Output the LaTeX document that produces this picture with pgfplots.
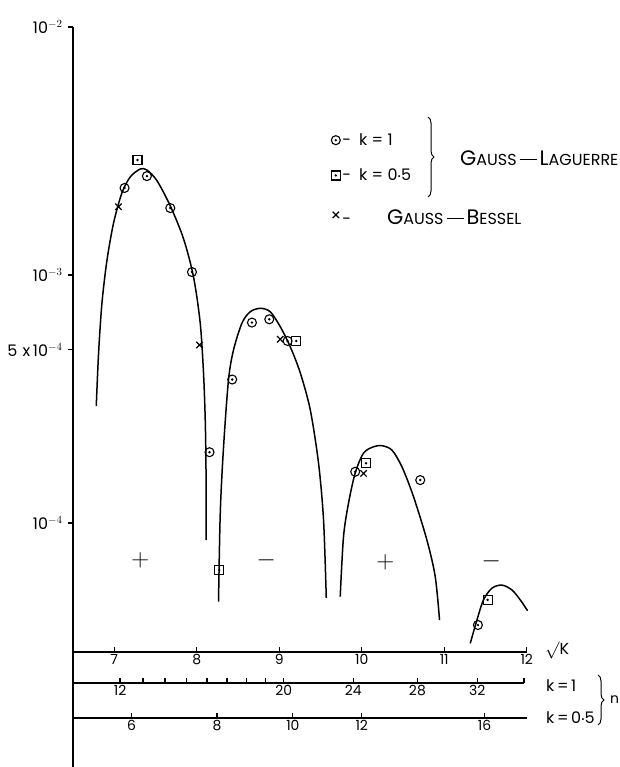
\documentclass[border=0pt]{standalone}
\usepackage{pgfplots}
\pgfplotsset{compat=1.18}
\usepackage{pgfplotstable}
\usetikzlibrary{decorations.pathreplacing}
\usepackage{fontspec}
\setmainfont{Poppins}

% circle / square with a dot in the middle
\pgfdeclareplotmark{odot}{%
  \pgfpathcircle{\pgfpointorigin}{\pgfplotmarksize}\pgfusepathqstroke
  \pgfpathcircle{\pgfpointorigin}{0.3\pgfplotmarksize}\pgfusepathqfill}
\pgfdeclareplotmark{sqdot}{%
  \pgfpathrectangle{\pgfpoint{-\pgfplotmarksize}{-\pgfplotmarksize}}{\pgfpoint{2\pgfplotmarksize}{2\pgfplotmarksize}}\pgfusepathqstroke
  \pgfpathcircle{\pgfpointorigin}{0.3\pgfplotmarksize}\pgfusepathqfill}

\newcommand\bigc[1]{{\fontsize{21}{22}\selectfont #1}}
\newcommand\smc[1]{{\fontsize{16}{17}\selectfont #1}}
\newcommand\dsh{\hspace{3bp}\rule[5bp]{17bp}{1.3bp}\hspace{3bp}}
\newcommand\legfont{\fontsize{16}{18}\selectfont}

% lobes of the curve, x = sqrt(K)
\pgfplotstableread{
x y
6.782 2.96e-4
6.810 4.84e-4
6.851 7.71e-4
6.912 1.148e-3
6.992 1.622e-3
7.093 2.143e-3
7.194 2.486e-3
7.315 2.675e-3
7.396 2.65e-3
7.518 2.40e-3
7.679 1.90e-3
7.840 1.40e-3
7.961 9.82e-4
8.042 6.40e-4
8.082 4.03e-4
8.103 2.60e-4
8.112 1.68e-4
8.115 8.53e-5
}\lobeA
\pgfplotstableread{
x y
8.264 4.82e-5
8.285 1.097e-4
8.325 2.03e-4
8.385 3.78e-4
8.446 4.99e-4
8.548 6.40e-4
8.648 7.11e-4
8.770 7.34e-4
8.891 7.11e-4
9.012 6.19e-4
9.133 5.14e-4
9.255 4.03e-4
9.376 2.86e-4
9.476 1.746e-4
9.537 1.028e-4
9.570 4.99e-5
}\lobeB
\pgfplotstableread{
x y
9.739 5.05e-5
9.779 8.81e-5
9.840 1.204e-4
9.921 1.592e-4
10.022 1.914e-4
10.143 2.03e-4
10.245 2.05e-4
10.366 1.968e-4
10.487 1.686e-4
10.628 1.276e-4
10.790 8.53e-5
10.891 6.07e-5
10.943 4.06e-5
}\lobeC
\pgfplotstableread{
x y
11.315 3.27e-5
11.396 4.06e-5
11.476 4.90e-5
11.578 5.46e-5
11.699 5.62e-5
11.821 5.37e-5
11.921 4.90e-5
12.010 4.43e-5
}\lobeD

% Gauss-Laguerre k=1
\pgfplotstableread{
x y
7.125 2.244e-3
7.396 2.505e-3
7.679 1.862e-3
7.942 1.028e-3
8.155 1.93e-4
8.430 3.79e-4
8.669 6.43e-4
8.879 6.63e-4
9.101 5.42e-4
9.921 1.61e-4
10.709 1.49e-4
11.408 3.88e-5
}\lagA
% Gauss-Laguerre k=0.5
\pgfplotstableread{
x y
7.282 2.91e-3
8.273 6.46e-5
9.206 5.42e-4
10.051 1.742e-4
11.525 4.90e-5
}\lagB
% Gauss-Bessel
\pgfplotstableread{
x y
7.052 1.884e-3
8.034 5.22e-4
9.012 5.51e-4
10.022 1.585e-4
}\bess

\pgfplotsset{
  scaleaxis/.style={scale only axis, width=453.75bp, height=10bp, anchor=south west,
    xmin=6.5, xmax=12, ymin=0, ymax=1,
    axis x line=bottom, axis y line=none, ytick=\empty,
    axis line style={-, line width=1.6bp},
    tick align=inside, major tick length=5bp, tick style={line width=1.2bp, black},
    xticklabel style={font=\fontsize{14}{14}\selectfont, inner sep=2bp}},
}

\begin{document}
\begin{tikzpicture}
\useasboundingbox (-73bp,0bp) rectangle (547bp,767bp);

\begin{axis}[scale only axis, width=453.75bp, height=740bp, at={(0,0)}, anchor=south west,
  xmin=6.5, xmax=12, ymode=log, ymin=1.038e-5, ymax=1e-2,
  axis x line=none, axis y line=left, xtick=\empty,
  axis line style={-, line width=1.6bp},
  ytick={1e-4,5e-4,1e-3,1e-2},
  yticklabels={10$^{-4}$, 5\,\,x\,10$^{-4}$, 10$^{-3}$, 10$^{-2}$},
  yminorticks=false, tick align=outside, major tick length=5bp,
  tick style={line width=1.2bp, black},
  yticklabel style={font=\fontsize{16}{16}\selectfont, xshift=-2bp},
  clip=false,
  legend image code/.code={\draw[#1] plot coordinates {(0bp,0bp)};},
  legend style={at={(0.5689,0.859)}, anchor=north west, draw=none, fill=none,
    font=\legfont, row sep=18bp, inner sep=0pt},
  legend cell align=left,
]
\addplot[only marks, mark=odot, mark size=4.5bp, mark options={line width=1.1bp}] table {\lagA};
\addlegendentry{\legfont -\hspace{8bp}k\;=\;1}
\addplot[only marks, mark=sqdot, mark size=4.5bp, mark options={line width=1.1bp}] table {\lagB};
\addlegendentry{\legfont -\hspace{8bp}k\;=\;0{\raisebox{0.35ex}{.}}5}
\addplot[only marks, mark=x, mark size=4.5bp, mark options={line width=1.2bp}] table {\bess};
\addlegendentry{\legfont -\hspace{36bp}\rule{0pt}{20bp}\bigc{G}\smc{AUSS}\dsh\bigc{B}\smc{ESSEL}}

\addplot[forget plot, black, line width=1.5bp, smooth] table {\lobeA};
\addplot[forget plot, black, line width=1.5bp, smooth] table {\lobeB};
\addplot[forget plot, black, line width=1.5bp, smooth] table {\lobeC};
\addplot[forget plot, black, line width=1.5bp, smooth] table {\lobeD};

\node at (axis cs:7.315,7.09e-5) {\Huge$+$};
\node at (axis cs:8.842,7.09e-5) {\Huge$-$};
\node at (axis cs:10.285,6.97e-5) {\Huge$+$};
\node at (axis cs:11.570,7.03e-5) {\Huge$-$};
\end{axis}

% sqrt K scale
\begin{axis}[scaleaxis, at={(0bp,115bp)},
  xtick={7,8,9,10,11,12}, xticklabels={7,8,9,10,11,12}]
\end{axis}
% n scale, k = 1  (K = 4n+2)
\begin{axis}[scaleaxis, at={(0bp,84bp)}, xmax=11.97,
  width=451bp,
  xtick={7.0711,7.3485,7.6158,7.8740,8.1240,8.3666,8.6023,8.8318,9.0554,9.8995,10.6771,11.4018,11.97},
  xticklabels={12,,,,,,,,20,24,28,32,}]
\end{axis}
% n scale, k = 0.5  (K = 8n+4)
\begin{axis}[scaleaxis, at={(0bp,49bp)},
  xtick={7.2111,8.2462,9.1652,10,11.4891},
  xticklabels={6,8,10,12,16}]
\end{axis}

% extension of the y axis through the scales
\draw[line width=1.6bp] (0bp,0bp) -- (0bp,27bp);

% legend brace and labels
\draw[line width=1bp, decorate, decoration={brace, amplitude=6bp}] (355bp,650bp) -- (355bp,570bp);
\node[anchor=west, inner sep=0pt] at (387bp,609bp)
  {\bigc{G}\smc{AUSS}\dsh\bigc{L}\smc{AGUERRE}};

\node[anchor=west, inner sep=0pt, font=\fontsize{16}{18}\selectfont] at (472bp,117bp) {$\surd$K};
\node[anchor=west, inner sep=0pt, font=\fontsize{16}{18}\selectfont] at (473bp,81bp) {k\,=\,1};
\node[anchor=west, inner sep=0pt, font=\fontsize{16}{18}\selectfont] at (473bp,49bp) {k\,=\,0{\raisebox{0.35ex}{.}}5};
\draw[line width=1bp, decorate, decoration={brace, amplitude=6bp}] (525bp,92bp) -- (525bp,42bp);
\node[anchor=west, inner sep=0pt, font=\fontsize{14}{16}\selectfont] at (537bp,67bp) {n};
\end{tikzpicture}
\end{document}
